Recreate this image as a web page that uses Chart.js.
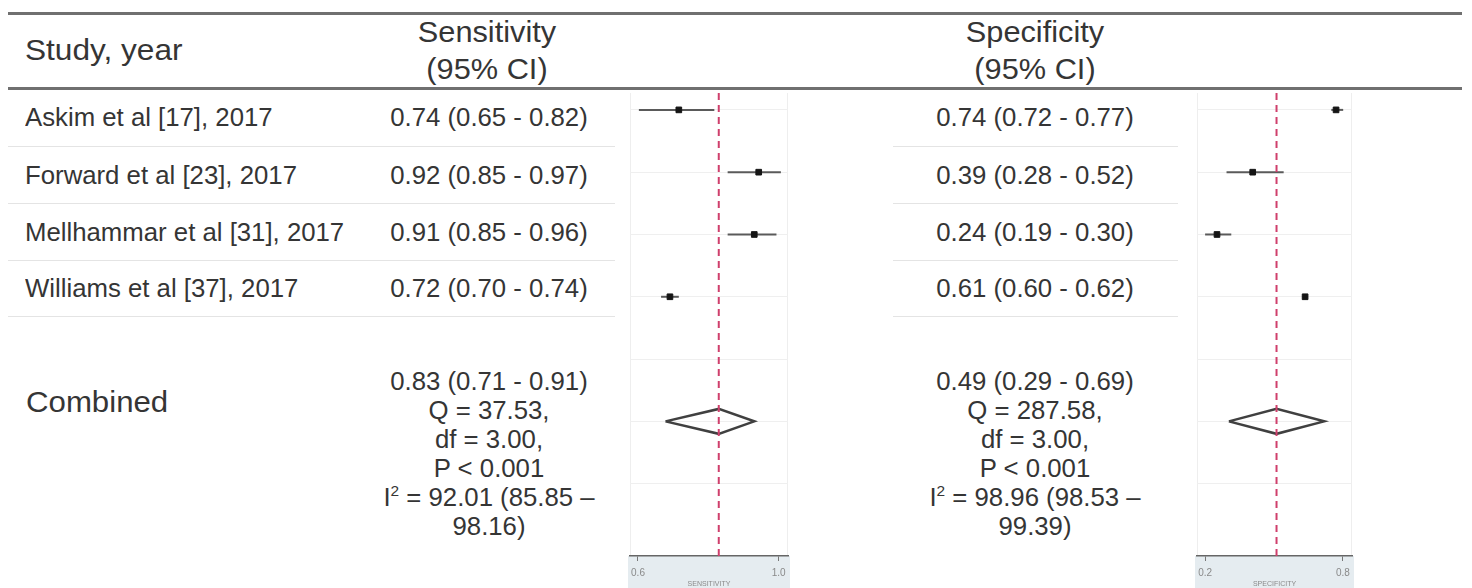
<!DOCTYPE html>
<html>
<head>
<meta charset="utf-8">
<script src="https://cdn.jsdelivr.net/npm/chart.js@4.4.1/dist/chart.umd.min.js"></script>
<style>
  body { margin: 0; background: #fff; width: 1472px; height: 588px; position: relative; overflow: hidden;
         font-family: "Liberation Sans", Arial, sans-serif; color: #353535; }
  .t { position: absolute; white-space: nowrap; }
  .l { transform-origin: left center; }
  .c { transform-origin: center center; text-align: center; width: 300px; }
  .rule { position: absolute; left: 8px; width: 1454px; height: 3px; background: #707070; }
  .sep { position: absolute; height: 1px; background: #e4e4e4; }
  canvas { position: absolute; }
</style>
</head>
<body>
<div class="rule" style="top:12px"></div>
<div class="rule" style="top:87px"></div>
<div id="table"></div>
<canvas id="senChart" width="180" height="500" style="left:620px;top:88px"></canvas>
<canvas id="speChart" width="180" height="500" style="left:1187px;top:88px"></canvas>
<script>
// study data
const studies = ['Askim et al [17], 2017', 'Forward et al [23], 2017', 'Mellhammar et al [31], 2017', 'Williams et al [37], 2017'];
const senEst = [0.74, 0.92, 0.91, 0.72];
const senLow = [0.65, 0.85, 0.85, 0.70];
const senHigh = [0.82, 0.97, 0.96, 0.74];
const speEst = [0.74, 0.39, 0.24, 0.61];
const speLow = [0.72, 0.28, 0.19, 0.60];
const speHigh = [0.77, 0.52, 0.30, 0.62];

// pooled estimate [est, low, high] and heterogeneity
const senPooled = [0.83, 0.71, 0.91];
const spePooled = [0.49, 0.29, 0.69];
const senQ = '37.53', speQ = '287.58';
const senDf = '3.00', speDf = '3.00';
const senP = '< 0.001', speP = '< 0.001';
const senI2 = ['92.01', '85.85', '98.16'];
const speI2 = ['98.96', '98.53', '99.39'];

// axis ticks as printed under the panels
const senTickAt = [0.648, 0.965];
const senTickLabels = ['0.6', '1.0'];
const speTickAt = [0.19, 0.769];
const speTickLabels = ['0.2', '0.8'];
const senRange = [0.630, 0.986];
const speRange = [0.156, 0.807];

const fmt = (e, l, h) => e.toFixed(2) + ' (' + l.toFixed(2) + ' - ' + h.toFixed(2) + ')';

// ---- table text ----
const table = document.getElementById('table');
function addText(html, cls, css) {
    const d = document.createElement('div');
    d.className = 't ' + cls;
    d.innerHTML = html;
    d.style.cssText = css;
    table.appendChild(d);
}
addText('Study, year', 'l', 'left:25px;top:32px;font-size:29px;line-height:36px;transform:scaleX(1.09)');
addText('Sensitivity<br>(95% CI)', 'c', 'left:337px;top:14px;font-size:29px;line-height:37px;transform:scaleX(1.06)');
addText('Specificity<br>(95% CI)', 'c', 'left:885px;top:14px;font-size:29px;line-height:37px;transform:scaleX(1.06)');

const rowY = [117, 175, 232, 288];
const rowCss = 'font-size:25px;line-height:40px;transform:scaleX(1.03);';
studies.forEach((s, i) => {
    addText(s, 'l', rowCss + `left:25px;top:${rowY[i] - 20}px`);
    addText(fmt(senEst[i], senLow[i], senHigh[i]), 'c', rowCss + `left:339px;top:${rowY[i] - 20}px`);
    addText(fmt(speEst[i], speLow[i], speHigh[i]), 'c', rowCss + `left:885px;top:${rowY[i] - 20}px`);
});
[146, 203, 260, 316].forEach(y => {
    const a = document.createElement('div');
    a.className = 'sep';
    a.style.cssText = `left:8px;width:607px;top:${y}px`;
    table.appendChild(a);
    const b = document.createElement('div');
    b.className = 'sep';
    b.style.cssText = `left:893px;width:285px;top:${y}px`;
    table.appendChild(b);
});

addText('Combined', 'l', 'left:26px;top:384px;font-size:30px;line-height:36px;transform:scaleX(1.04)');
function statsHtml(p, q, df, pv, i2) {
    return fmt(p[0], p[1], p[2]) + '<br>Q = ' + q + ',<br>df = ' + df + ',<br>P ' + pv +
        '<br>I<sup style="font-size:60%;vertical-align:top;line-height:1">2</sup> = ' + i2[0] + ' (' + i2[1] + ' \u2013<br>' + i2[2] + ')';
}
const statCss = 'font-size:25px;line-height:29px;transform:scaleX(1.03);top:367px;';
addText(statsHtml(senPooled, senQ, senDf, senP, senI2), 'c', statCss + 'left:339px');
addText(statsHtml(spePooled, speQ, speDf, speP, speI2), 'c', statCss + 'left:885px');

// ---- forest panels ----
const yMin = 0.729, yMax = 8.161;
const rowTicks = [1, 2, 3, 4, 5, 6, 7];
const pooledRow = 6;
const diamondHalf = 0.2;

const panelBand = {
    id: 'panelBand',
    beforeDraw(chart) {
        const { ctx, chartArea: a } = chart;
        ctx.save();
        ctx.fillStyle = '#e5ecf0';
        ctx.fillRect(a.left - 2, a.bottom, a.right - a.left + 4, chart.height - a.bottom);
        ctx.strokeStyle = '#eeeeee';
        ctx.lineWidth = 1;
        ctx.beginPath();
        ctx.moveTo(a.left + 0.5, a.top); ctx.lineTo(a.left + 0.5, a.bottom);
        ctx.moveTo(a.right - 0.5, a.top); ctx.lineTo(a.right - 0.5, a.bottom);
        ctx.stroke();
        ctx.restore();
    }
};

function makeForest(id, est, low, high, pooled, range, tickAt, tickLabels, title, pad) {
    const datasets = [];
    datasets.push({
        data: [{ x: pooled[0], y: yMin }, { x: pooled[0], y: yMax }],
        showLine: true, borderColor: '#cf3f6c', borderWidth: 2, borderDash: [7, 5], pointRadius: 0
    });
    datasets.push({
        data: est.map((v, i) => ({ x: v, y: i + 1 })),
        pointStyle: 'rect', pointRadius: 4, backgroundColor: '#151515', borderColor: '#151515', borderWidth: 1
    });
    est.forEach((v, i) => {
        datasets.push({
            data: [{ x: low[i], y: i + 1 }, { x: high[i], y: i + 1 }],
            showLine: true, borderColor: '#5a5a5a', borderWidth: 2, pointRadius: 0
        });
    });
    datasets.push({
        data: [
            { x: pooled[1], y: pooledRow },
            { x: pooled[0], y: pooledRow - diamondHalf },
            { x: pooled[2], y: pooledRow },
            { x: pooled[0], y: pooledRow + diamondHalf },
            { x: pooled[1], y: pooledRow }
        ],
        showLine: true, fill: false, borderColor: '#404040', borderWidth: 2.5, pointRadius: 0, tension: 0
    });

    return new Chart(document.getElementById(id), {
        type: 'scatter',
        data: { datasets },
        options: {
            responsive: false,
            animation: false,
            devicePixelRatio: 1,
            layout: { padding: pad },
            plugins: { legend: { display: false }, tooltip: { enabled: false } },
            scales: {
                x: {
                    type: 'linear', min: range[0], max: range[1],
                    afterBuildTicks: s => { s.ticks = tickAt.map(v => ({ value: v })); },
                    afterFit: s => { s.height = 32; },
                    grid: { drawOnChartArea: false, drawTicks: true, tickLength: 5, color: '#777' },
                    border: { display: true, color: '#666', width: 1.5 },
                    ticks: { callback: (v, i) => tickLabels[i], font: { size: 10 }, color: '#8a8a8a', padding: 6, maxRotation: 0, autoSkip: false },
                    title: { display: true, text: title, font: { size: 7 }, color: '#8a8a8a', padding: 0 }
                },
                y: {
                    type: 'linear', reverse: true, min: yMin, max: yMax,
                    afterBuildTicks: s => { s.ticks = rowTicks.map(v => ({ value: v })); },
                    afterFit: s => { s.width = 0; },
                    ticks: { display: false },
                    grid: { color: '#efefef', drawTicks: false },
                    border: { display: false }
                }
            }
        },
        plugins: [panelBand]
    });
}

makeForest('senChart', senEst, senLow, senHigh, senPooled, senRange, senTickAt, senTickLabels, 'SENSITIVITY', { left: 10, right: 12, top: 2, bottom: 0 });
makeForest('speChart', speEst, speLow, speHigh, spePooled, speRange, speTickAt, speTickLabels, 'SPECIFICITY', { left: 10, right: 15, top: 2, bottom: 0 });
</script>
</body>
</html>
